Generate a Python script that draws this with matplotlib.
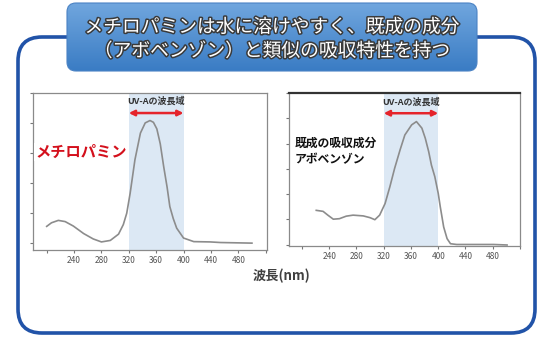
import numpy as np
import matplotlib
matplotlib.use("Agg")
import matplotlib.pyplot as plt
from matplotlib.patches import FancyBboxPatch
import matplotlib.patheffects as pe

plt.rcParams['font.family'] = ['Noto Sans CJK JP', 'DejaVu Sans']

# ---- data ----
title_lines = ["メチロパミンは水に溶けやすく、既成の成分", "（アボベンゾン）と類似の吸収特性を持つ"]
xlabel = "波長(nm)"
band_label = "UV-Aの波長域"
band_range = [320, 400]
left_label = "メチロパミン"
right_label = "既成の吸収成分\nアボベンゾン"
tick_positions = [200, 240, 280, 320, 360, 400, 440, 480, 520]
tick_labels = ["", "240", "280", "320", "360", "400", "440", "480", ""]

meth_nm = [200, 207, 217, 227, 239, 254, 268, 280, 293, 305, 312, 317, 322, 329,
           337, 344, 351, 356, 361, 366, 371, 376, 380, 385, 390, 400, 415, 439, 454, 500]
meth_abs = [0.54, 0.66, 0.74, 0.70, 0.55, 0.30, 0.12, 0.02, 0.07, 0.28, 0.60, 0.98, 1.65, 2.77,
            3.66, 4.00, 4.08, 4.02, 3.80, 3.30, 2.54, 1.85, 1.20, 0.80, 0.48, 0.15, 0.03, 0.02, 0.00, -0.02]

avo_nm = [221, 231, 238, 246, 255, 265, 275, 290, 300, 307, 314, 322, 329, 336, 344,
          351, 356, 361, 368, 376, 381, 386, 390, 395, 400, 403, 408, 413, 418, 427, 481, 501]
avo_abs = [1.36, 1.32, 1.17, 1.01, 1.03, 1.13, 1.17, 1.14, 1.07, 0.99, 1.17, 1.63, 2.29, 3.02, 3.75,
           4.34, 4.54, 4.74, 4.87, 4.61, 4.21, 3.68, 3.15, 2.69, 2.03, 1.50, 0.70, 0.24, 0.04, 0.01, 0.01, -0.01]

W, H = 545, 338
fig = plt.figure(figsize=(W / 100, H / 100), dpi=100)

# background drawing layer in pixel coords
bg = fig.add_axes([0, 0, 1, 1])
bg.set_xlim(0, W)
bg.set_ylim(H, 0)
bg.axis('off')

outer = FancyBboxPatch((18, 37), 517, 296, boxstyle="round,pad=0,rounding_size=24",
                       fill=False, edgecolor='#2153a8', linewidth=2.6)
bg.add_patch(outer)


def px_axes(l, t, r, b):
    return fig.add_axes([l / W, 1 - b / H, (r - l) / W, (b - t) / H])


def style_axes(ax, xlim, ylim, nyt, top_dark=False):
    ax.set_xlim(*xlim)
    ax.set_ylim(*ylim)
    ax.set_xticks(tick_positions)
    ax.set_xticklabels(tick_labels)
    ax.set_yticks(np.arange(0, nyt + 1))
    ax.set_yticklabels([])
    ax.tick_params(axis='both', direction='out', length=2.5, width=0.8, color='#777777',
                   labelsize=6, labelcolor='#555555', pad=2)
    for s in ax.spines.values():
        s.set_color('#8a8a8a')
        s.set_linewidth(0.9)
    if top_dark:
        ax.spines['top'].set_color('#333333')
        ax.spines['top'].set_linewidth(1.6)


# left plot
ax1 = px_axes(33, 93, 267, 250)
ax1.axvspan(band_range[0], band_range[1], color='#dce8f4', lw=0)
ax1.plot(meth_nm, meth_abs, color='#8c8c8c', lw=1.2)
style_axes(ax1, (180, 522), (-0.25, 5.0), 5)
ax1.annotate('', xy=(band_range[0], 4.33), xytext=(band_range[1], 4.33),
             arrowprops=dict(arrowstyle='<|-|>', color='#e5242b', lw=1.8,
                             mutation_scale=8, shrinkA=0, shrinkB=0))
ax1.text(360, 4.72, band_label, ha='center', va='center', fontsize=6.5,
         fontweight='bold', color='#333333')
ax1.text(0.01, 0.625, left_label, transform=ax1.transAxes, ha='left', va='center',
         fontsize=11, fontweight='bold', color='#d4101c',
         bbox=dict(facecolor='white', edgecolor='none', pad=1))

# right plot
ax2 = px_axes(289, 93, 520, 246)
ax2.axvspan(band_range[0], band_range[1], color='#dce8f4', lw=0)
ax2.plot(avo_nm, avo_abs, color='#8c8c8c', lw=1.2)
style_axes(ax2, (181, 520), (-0.05, 6.0), 6, top_dark=True)
ax2.annotate('', xy=(band_range[0], 5.2), xytext=(band_range[1], 5.2),
             arrowprops=dict(arrowstyle='<|-|>', color='#e5242b', lw=1.8,
                             mutation_scale=8, shrinkA=0, shrinkB=0))
ax2.text(360, 5.63, band_label, ha='center', va='center', fontsize=6.5,
         fontweight='bold', color='#333333')
ax2.text(0.025, 0.62, right_label, transform=ax2.transAxes, ha='left', va='center',
         fontsize=8.5, fontweight='bold', color='#111111', linespacing=1.35,
         bbox=dict(facecolor='white', edgecolor='none', pad=0.5))

# x label
fig.text(282 / W, 1 - 276 / H, xlabel, ha='center', va='center', fontsize=9.5,
         fontweight='bold', color='#404040')

# title box with gradient (drawn on top layer)
top = fig.add_axes([0, 0, 1, 1], zorder=5)
top.set_xlim(0, W)
top.set_ylim(H, 0)
top.axis('off')
tb = FancyBboxPatch((67, 3), 410, 68, boxstyle="round,pad=0,rounding_size=9",
                    facecolor='none', edgecolor='#4a82c4', linewidth=0.8)
top.add_patch(tb)
c_top = np.array([112, 166, 222]) / 255
c_bot = np.array([58, 124, 196]) / 255
t = np.linspace(0, 1, 100)[:, None, None]
grad = c_top[None, None, :] * (1 - t) + c_bot[None, None, :] * t
grad = np.repeat(grad, 2, axis=1)
im = top.imshow(grad, extent=(67, 477, 71, 3), aspect='auto', interpolation='bilinear')
im.set_clip_path(tb)
stroke = [pe.withStroke(linewidth=2.2, foreground='#3a3a3a')]
top.text(272, 27, title_lines[0], ha='center', va='center', fontsize=13.5,
         color='white', path_effects=stroke)
top.text(272, 51, title_lines[1], ha='center', va='center', fontsize=13.5,
         color='white', path_effects=stroke)

fig.savefig('out.png', dpi=100)
